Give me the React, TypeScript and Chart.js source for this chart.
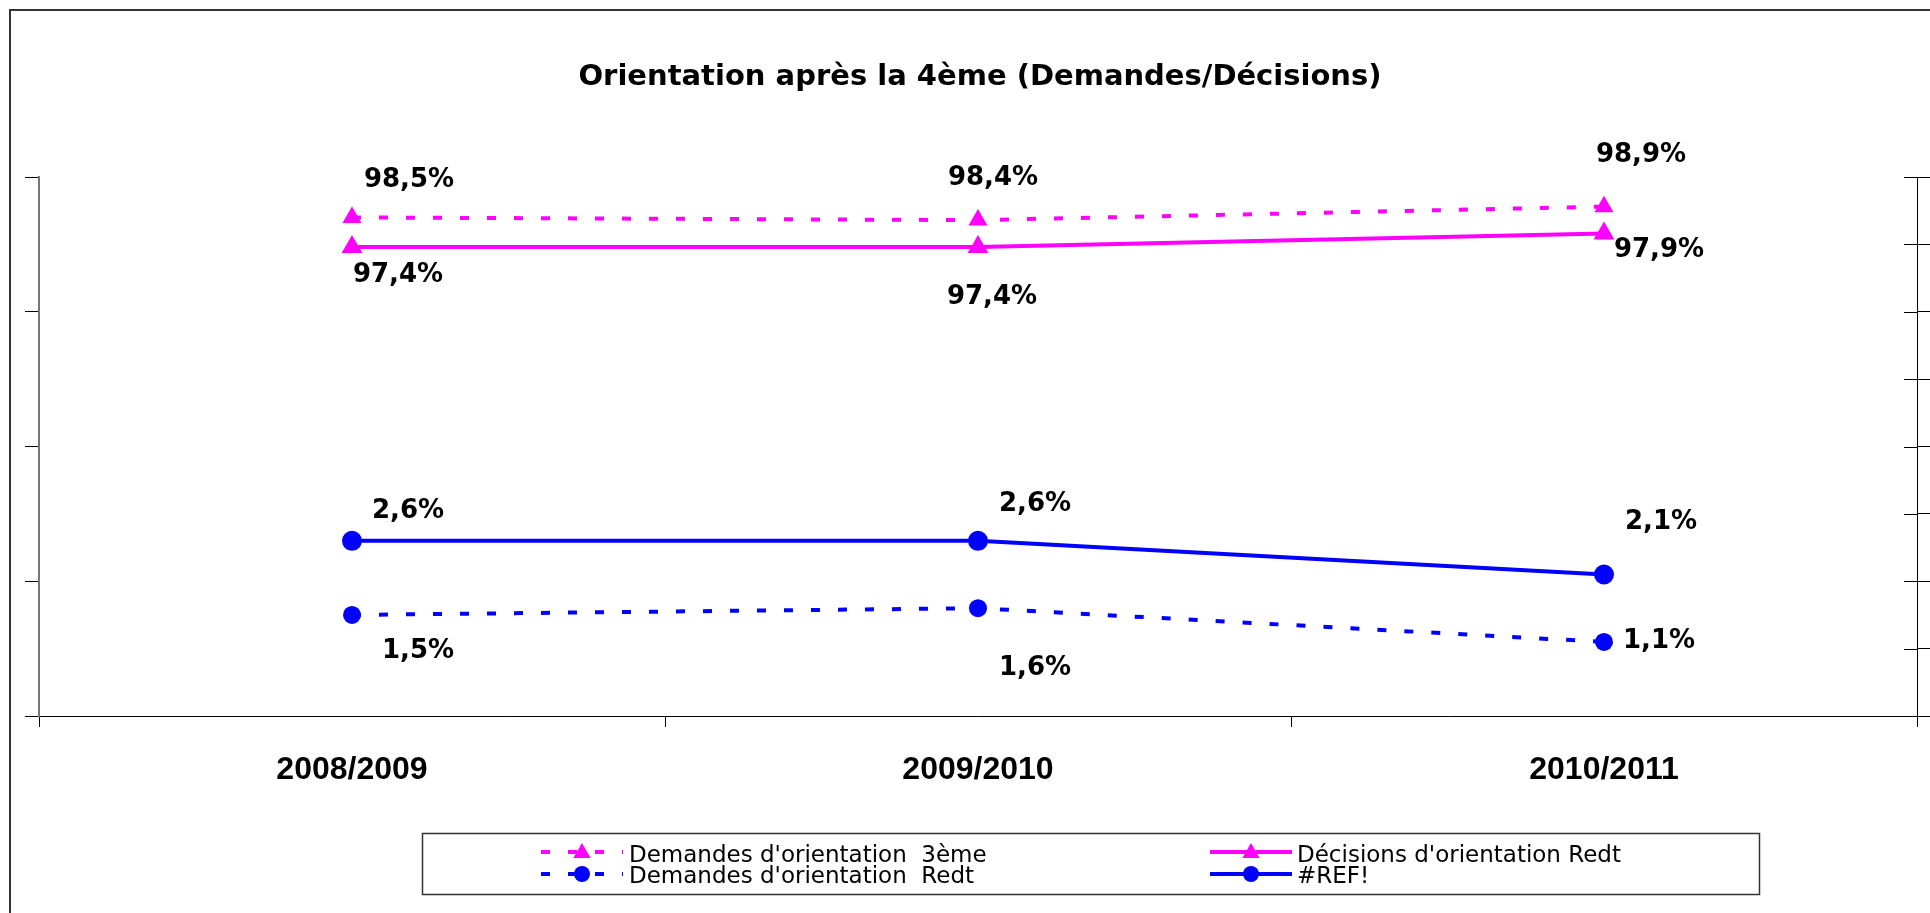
import React, { useEffect, useRef } from 'react';
import { Chart, registerables } from 'chart.js';

Chart.register(...registerables);

// ---- data ----
const categories = ['2008/2009', '2009/2010', '2010/2011'];
const demandes3eme = [98.5, 98.4, 98.9];
const decisionsRedt = [97.4, 97.4, 97.9];
const demandesRedt = [1.5, 1.6, 1.1];
const refSeries = [2.6, 2.6, 2.1];
const seriesLabels = [
  "Demandes d'orientation  3ème",
  "Décisions d'orientation Redt",
  "Demandes d'orientation  Redt",
  '#REF!',
];
const titleText = 'Orientation après la 4ème (Demandes/Décisions)';
const leftAxisMin = 80;
const leftAxisMax = 100;
const leftAxisStep = 5;
const rightAxisMin = 0;
const rightAxisMax = 8;
const rightAxisStep = 1;

// ---- label placement (pixel offsets from each point) ----
const labelOffsets = [
  [[57, -37], [15, -42], [37, -51]],
  [[46, 28], [14, 50], [55, 17]],
  [[66, 36], [57, 60], [55, -1]],
  [[56, -30], [57, -37], [57, -52]],
];

const PINK = '#FF00FF';
const BLUE = '#0000FF';
const DASH = [9, 18];

const fmt = (v: number) => v.toFixed(1).replace('.', ',') + '%';

function drawMarker(ctx: CanvasRenderingContext2D, style: string, x: number, y: number, r: number, color: string) {
  ctx.save();
  ctx.fillStyle = color;
  ctx.beginPath();
  if (style === 'triangle') {
    ctx.moveTo(x, y - r);
    ctx.lineTo(x + r * 0.866, y + r * 0.5);
    ctx.lineTo(x - r * 0.866, y + r * 0.5);
    ctx.closePath();
  } else {
    ctx.arc(x, y, r, 0, Math.PI * 2);
  }
  ctx.fill();
  ctx.restore();
}

const decorPlugin = {
  id: 'decor',
  beforeDraw(chart: any) {
    const ctx = chart.ctx as CanvasRenderingContext2D;
    ctx.save();
    ctx.fillStyle = '#ffffff';
    ctx.fillRect(0, 0, chart.width, chart.height);
    ctx.strokeStyle = '#333333';
    ctx.lineWidth = 2;
    ctx.strokeRect(10, 10, chart.width + 20, chart.height + 20);
    ctx.fillStyle = '#000';
    ctx.font = 'bold 29px "DejaVu Sans"';
    ctx.textAlign = 'center';
    ctx.textBaseline = 'middle';
    ctx.fillText(titleText, 980, 77);
    ctx.restore();
  },
  afterDraw(chart: any) {
    const ctx = chart.ctx as CanvasRenderingContext2D;
    // inward part of right-axis ticks
    const y2 = chart.scales.y2;
    ctx.save();
    ctx.strokeStyle = '#000';
    ctx.lineWidth = 1;
    y2.ticks.forEach((_t: any, i: number) => {
      const py = Math.round(y2.getPixelForTick(i)) + 0.5;
      ctx.beginPath();
      ctx.moveTo(chart.chartArea.right - 13, py);
      ctx.lineTo(chart.chartArea.right, py);
      ctx.stroke();
    });
    ctx.restore();

    // data labels
    ctx.save();
    ctx.fillStyle = '#000';
    ctx.font = 'bold 26px "DejaVu Sans"';
    ctx.textAlign = 'center';
    ctx.textBaseline = 'middle';
    chart.data.datasets.forEach((ds: any, di: number) => {
      const meta = chart.getDatasetMeta(di);
      meta.data.forEach((pt: any, i: number) => {
        const off = labelOffsets[di][i];
        ctx.fillText(fmt(ds.data[i]), pt.x + off[0], pt.y + off[1]);
      });
    });
    ctx.restore();

    // legend
    ctx.save();
    ctx.strokeStyle = '#333';
    ctx.lineWidth = 1.5;
    ctx.strokeRect(422.5, 833.5, 1337, 61);
    const slots = [
      { x: 541, tx: 629, y: 852, ty: 856 },
      { x: 1210, tx: 1297, y: 852, ty: 856 },
      { x: 541, tx: 629, y: 874, ty: 877 },
      { x: 1210, tx: 1297, y: 874, ty: 877 },
    ];
    chart.data.datasets.forEach((ds: any, di: number) => {
      const s = slots[di];
      ctx.save();
      ctx.strokeStyle = ds.borderColor;
      ctx.lineWidth = 4;
      ctx.lineCap = 'butt';
      ctx.setLineDash(ds.borderDash || []);
      ctx.beginPath();
      ctx.moveTo(s.x, s.y);
      ctx.lineTo(s.x + 82, s.y);
      ctx.stroke();
      ctx.restore();
      drawMarker(ctx, ds.pointStyle, s.x + 41, ds.pointStyle === 'triangle' ? s.y + 1 : s.y, ds.pointStyle === 'triangle' ? 10 : 8, ds.borderColor);
      ctx.fillStyle = '#000';
      ctx.font = '23px "DejaVu Sans"';
      ctx.textAlign = 'left';
      ctx.textBaseline = 'middle';
      ctx.fillText(ds.label, s.tx, s.ty);
    });
    ctx.restore();
  },
};

export default function App() {
  const canvasRef = useRef<HTMLCanvasElement | null>(null);

  useEffect(() => {
    const canvas = canvasRef.current;
    if (!canvas) return;
    const chart = new Chart(canvas, {
      type: 'line',
      data: {
        labels: categories,
        datasets: [
          {
            label: seriesLabels[0],
            data: demandes3eme,
            yAxisID: 'y',
            borderColor: PINK,
            backgroundColor: PINK,
            borderWidth: 4,
            borderDash: DASH,
            borderCapStyle: 'butt',
            pointStyle: 'triangle',
            pointRadius: 11,
            pointBorderWidth: 0,
            pointBackgroundColor: PINK,
            tension: 0,
          },
          {
            label: seriesLabels[1],
            data: decisionsRedt,
            yAxisID: 'y',
            borderColor: PINK,
            backgroundColor: PINK,
            borderWidth: 4,
            pointStyle: 'triangle',
            pointRadius: 12,
            pointBorderWidth: 0,
            pointBackgroundColor: PINK,
            tension: 0,
          },
          {
            label: seriesLabels[2],
            data: demandesRedt,
            yAxisID: 'y2',
            borderColor: BLUE,
            backgroundColor: BLUE,
            borderWidth: 4,
            borderDash: DASH,
            borderCapStyle: 'butt',
            pointStyle: 'circle',
            pointRadius: 9,
            pointBorderWidth: 0,
            pointBackgroundColor: BLUE,
            tension: 0,
          },
          {
            label: seriesLabels[3],
            data: refSeries,
            yAxisID: 'y2',
            borderColor: BLUE,
            backgroundColor: BLUE,
            borderWidth: 4,
            pointStyle: 'circle',
            pointRadius: 10,
            pointBorderWidth: 0,
            pointBackgroundColor: BLUE,
            tension: 0,
          },
        ],
      } as any,
      options: {
        responsive: false,
        animation: false,
        layout: { padding: { top: 177, left: 0, right: 0, bottom: 0 } },
        plugins: {
          legend: { display: false },
          title: { display: false },
          tooltip: { enabled: false },
        },
        scales: {
          x: {
            type: 'category',
            offset: true,
            grid: {
              display: true,
              offset: true,
              drawOnChartArea: false,
              drawTicks: true,
              tickLength: 11,
              color: '#000',
              lineWidth: 1,
            },
            border: { display: true, color: '#000', width: 1 },
            ticks: {
              color: '#000',
              font: { family: '"Liberation Sans", Arial', size: 32, weight: 'bold' },
              padding: 24,
              maxRotation: 0,
            },
            afterFit: (s: any) => {
              s.height = 197;
            },
          },
          y: {
            position: 'left',
            min: leftAxisMin,
            max: leftAxisMax,
            ticks: { display: false, stepSize: leftAxisStep },
            grid: {
              display: true,
              drawOnChartArea: false,
              drawTicks: true,
              tickLength: 14,
              color: '#000',
              lineWidth: 1,
            },
            border: { display: true, color: '#777', width: 2 },
            afterFit: (s: any) => {
              s.width = 39;
            },
          },
          y2: {
            position: 'right',
            min: rightAxisMin,
            max: rightAxisMax,
            ticks: { display: false, stepSize: rightAxisStep },
            grid: {
              display: true,
              drawOnChartArea: false,
              drawTicks: true,
              tickLength: 13,
              color: '#000',
              lineWidth: 1,
            },
            border: { display: true, color: '#000', width: 1 },
            afterFit: (s: any) => {
              s.width = 13;
            },
          },
        },
      } as any,
      plugins: [decorPlugin],
    });
    return () => chart.destroy();
  }, []);

  return (
    <div style={{ position: 'fixed', left: 0, top: 0, width: 1930, height: 913, background: '#fff' }}>
      <canvas ref={canvasRef} width={1930} height={913} style={{ display: 'block' }} />
    </div>
  );
}
